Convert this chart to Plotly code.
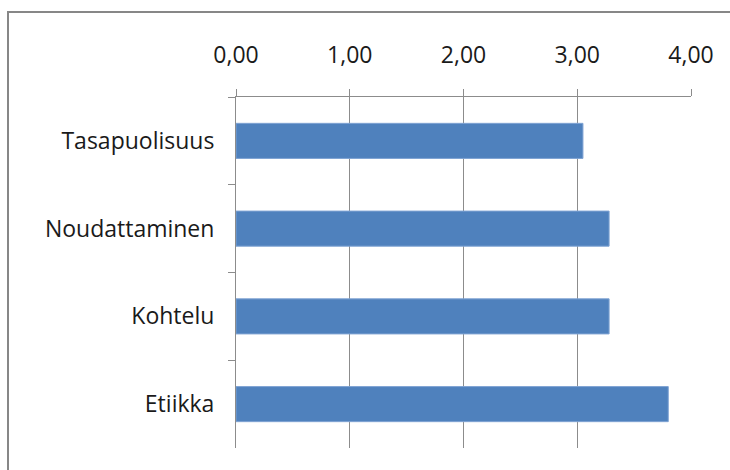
import plotly.graph_objects as go

# Survey dimension averages (scale 0-4)
categories = ["Tasapuolisuus", "Noudattaminen", "Kohtelu", "Etiikka"]
values = [3.05, 3.28, 3.28, 3.80]
x_ticks = [0, 1, 2, 3, 4]

BAR_COLOR = "#4F81BD"
LINE_COLOR = "#8C8C8C"
FONT = "Open Sans"

W, H = 730, 470
L, R, T, B = 236, 39, 97, 22
plot_w = W - L - R
plot_h = H - T - B

fig = go.Figure(
    go.Bar(
        x=values,
        y=categories,
        orientation="h",
        marker=dict(color=BAR_COLOR, line=dict(color="#7FA3D3", width=1)),
        hoverinfo="x+y",
    )
)

fig.update_layout(
    width=W,
    height=H,
    margin=dict(l=L, r=R, t=T, b=B, pad=0),
    paper_bgcolor="white",
    plot_bgcolor="white",
    separators=", ",
    bargap=0.6,
    showlegend=False,
    font=dict(family=FONT, size=23, color="#1a1a1a"),
)

fig.update_xaxes(
    side="top",
    range=[0, 4],
    tickvals=x_ticks,
    tickformat=".2f",
    showgrid=True,
    gridcolor=LINE_COLOR,
    gridwidth=1,
    showline=True,
    linecolor=LINE_COLOR,
    linewidth=1,
    ticks="outside",
    ticklen=7,
    tickcolor=LINE_COLOR,
    ticklabelstandoff=17,
    zeroline=False,
    fixedrange=True,
)

fig.update_yaxes(
    type="category",
    autorange="reversed",
    showgrid=False,
    showline=True,
    linecolor=LINE_COLOR,
    linewidth=1,
    ticks="outside",
    tickson="boundaries",
    ticklen=7,
    tickcolor=LINE_COLOR,
    ticklabelstandoff=16,
    zeroline=False,
    fixedrange=True,
)

# Chart frame (starts at the top-left, runs off the right and bottom edges)
fig.add_shape(
    type="rect",
    xref="paper",
    yref="paper",
    x0=(8 - L) / plot_w,
    x1=(W + 10 - L) / plot_w,
    y0=-(B + 10) / plot_h,
    y1=(H - 12 - B) / plot_h,
    line=dict(color="#878787", width=2),
    fillcolor="rgba(0,0,0,0)",
    layer="above",
)

fig.write_html("out.html")
